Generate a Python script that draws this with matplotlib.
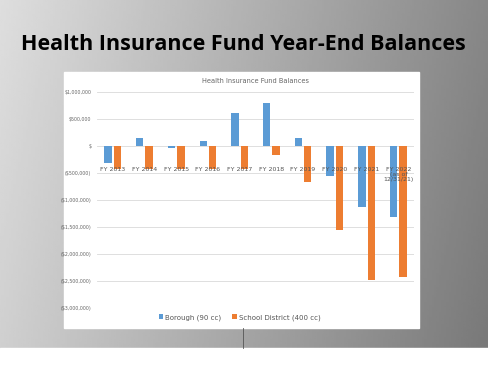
import numpy as np
import matplotlib
matplotlib.use("Agg")
import matplotlib.pyplot as plt
from matplotlib.ticker import FuncFormatter

# values, in dollars
years = ["FY 2013", "FY 2014", "FY 2015", "FY 2016", "FY 2017",
         "FY 2018", "FY 2019", "FY 2020", "FY 2021", "FY 2022\n(as of\n12/31/21)"]
borough = [-315000, 160000, -40000, 90000, 620000,
           810000, 160000, -560000, -1120000, -1320000]
school = [-420000, -420000, -420000, -420000, -420000,
          -170000, -670000, -1560000, -2490000, -2420000]
y_ticks = [1000000, 500000, 0, -500000, -1000000, -1500000,
           -2000000, -2500000, -3000000]

BLUE = "#5B9BD5"
ORANGE = "#ED7D31"


def money(v, pos=None):
    if v == 0:
        return "$"
    if v < 0:
        return "(${:,.0f})".format(-v)
    return "${:,.0f}".format(v)


fig = plt.figure(figsize=(4.89, 3.70), dpi=100)

# slide background: grey gradient, lighter on the left
bg = fig.add_axes([0, 0, 1, 1])
bg.set_xlim(0, 1)
bg.set_ylim(0, 1)
bg.axis("off")
xx, yy = np.meshgrid(np.linspace(0, 1, 200), np.linspace(0, 1, 150))
shade = 0.84 - 0.34 * xx + 0.06 * (yy - 0.5)
bg.imshow(np.clip(shade, 0, 1), cmap="gray", vmin=0, vmax=1,
          extent=[0, 1, 0, 1], aspect="auto", origin="lower", zorder=0)
bg.add_patch(plt.Rectangle((0, 0), 1, 22 / 370, color="white", zorder=1))
# white chart box
bg.add_patch(plt.Rectangle((64 / 489, 1 - 328 / 370), 355 / 489, 256 / 370,
                           color="white", zorder=2))
bg.plot([243 / 489, 243 / 489], [1 - 348 / 370, 1 - 328 / 370],
        color="#555555", lw=0.6, zorder=3)

fig.text(0.497, 1 - 45 / 370, "Health Insurance Fund Year-End Balances",
         ha="center", va="center", fontsize=15.5, fontweight="bold",
         family="Open Sans", color="black")

ax = fig.add_axes([0.198, 0.1676, 0.649, 0.583])
ax.set_facecolor("none")
x = np.arange(len(years))
w = 0.23
ax.bar(x - 0.148, borough, width=w, color=BLUE, label="Borough (90 cc)", zorder=3)
ax.bar(x + 0.148, school, width=w, color=ORANGE, label="School District (400 cc)", zorder=3)

ax.set_ylim(-3000000, 1000000)
ax.set_xlim(-0.5, len(years) - 0.5)
ax.set_yticks(y_ticks)
ax.yaxis.set_major_formatter(FuncFormatter(money))
ax.tick_params(axis="y", length=0, labelsize=3.4, labelcolor="#666666", pad=4)
ax.grid(axis="y", color="#D9D9D9", lw=0.6, zorder=0)
for s in ax.spines.values():
    s.set_visible(False)

# category labels sit just under the zero line
ax.set_xticks([])
for xi, lab in zip(x, years):
    ax.text(xi, -380000, lab, ha="center", va="top", fontsize=4.5,
            color="#555555", linespacing=1.1, zorder=4)

ax.set_title("Health Insurance Fund Balances", fontsize=4.8, color="#666666", pad=7)
ax.legend(loc="upper center", bbox_to_anchor=(0.45, -0.0), ncol=2, frameon=False,
          fontsize=5, handlelength=0.7, handleheight=0.7, handletextpad=0.3,
          columnspacing=1.5, labelcolor="#555555")

fig.savefig("out.png", dpi=100)
